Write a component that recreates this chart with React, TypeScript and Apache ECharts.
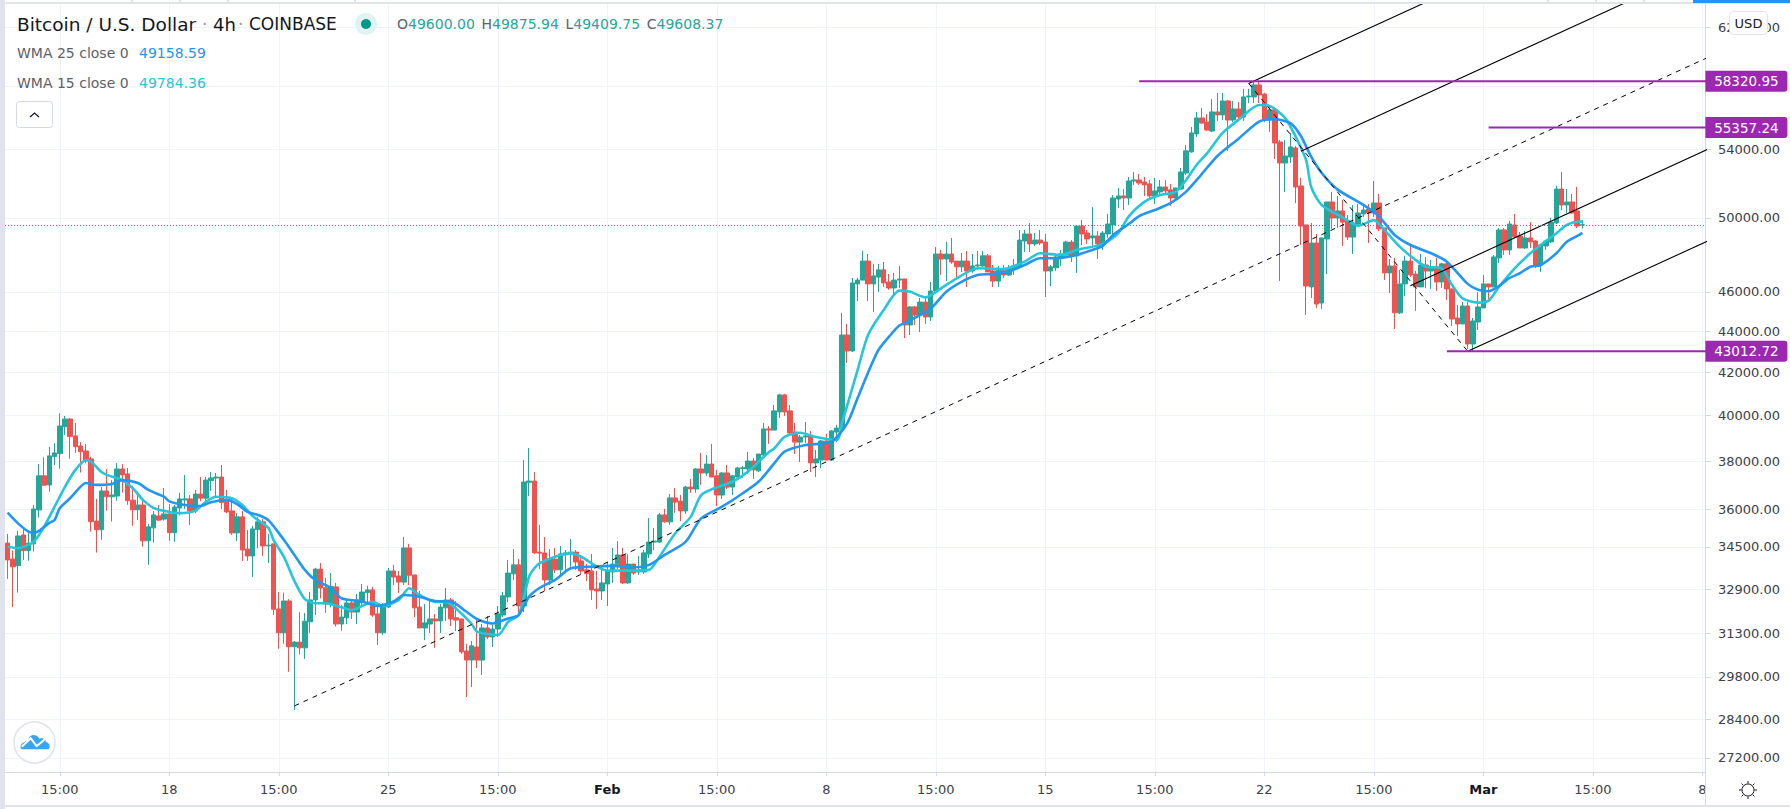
import React, { useEffect, useRef } from "react";
import * as echarts from "echarts";

// [open, close, low, high], 4h Bitcoin / U.S. Dollar candles
const ohlc = [
[34650,34000,33280,35010],[34030,33740,32240,34360],[33780,34930,32770,35130],[34970,34360,34000,35240],[34360,34650,33970,35040],
[34620,36010,34320,36170],[35970,37380,35660,37880],[37380,36990,36960,38170],[37000,38230,36720,38620],[38200,38360,37840,38780],
[38330,39540,37680,40110],[39510,39850,39140,39990],[39850,39070,38110,39900],[39100,38630,38360,39680],[38660,38410,37520,38830],
[38440,38020,37910,38750],[38100,35500,35100,38200],[35520,35180,34280,36420],[35180,36750,34780,36910],[36750,36510,35940,37670],
[36510,36580,35500,37200],[36540,37670,36350,37930],[37670,37420,36680,37880],[37460,36350,36180,37710],[36370,35980,35330,36960],
[35980,36170,35560,36710],[36170,34740,34510,36370],[34740,35290,33810,35410],[35250,35770,34670,35930],[35730,35560,35520,36170],
[35600,35810,35540,36870],[35810,35060,34740,36210],[35060,36090,34700,36170],[36050,36420,35750,36670],[36375,36420,36010,37420],
[36420,35930,35370,36580],[35930,36620,35840,36790],[36620,36450,36330,37330],[36450,37200,36240,37330],[37180,37290,36750,37540],
[37290,37330,36510,37500],[37330,36270,36010,37840],[36320,35890,35840,36790],[35930,35050,34970,36420],[35050,35690,34730,35840],
[35690,34380,33960,35930],[34420,34150,33960,35170],[34150,35210,33350,35330],[35180,35490,34450,35690],[35490,34540,34150,35600],
[34540,34570,33880,35010],[34620,32160,31950,34620],[32170,31320,30760,32790],[31320,32460,30930,32770],[32460,30830,29970,32530],
[30830,30990,28710,31030],[30990,30790,30560,32050],[30790,31730,30410,32020],[31710,32500,31320,32790],[32500,33650,31950,33700],
[33650,32940,32560,33880],[32950,32350,32030,33310],[32350,32990,32230,33500],[32980,31630,31540,33130],[31630,31880,31390,32320],
[31850,32390,31630,32520],[32390,32060,31810,32520],[32060,32500,31630,32720],[32400,32790,32240,33090],[32770,32870,32350,33020],
[32870,31950,31880,32980],[31990,31320,30890,32280],[31320,32280,31240,32390],[32240,33580,32210,33690],[33580,33350,33050,33810],
[33390,33160,32760,33580],[33160,34460,33050,34890],[34460,33420,33050,34620],[33430,32210,31880,33430],[32240,31490,31490,32830],
[31490,31670,31060,32350],[31630,31810,31310,32460],[31810,31740,30790,31990],[31740,32240,31310,32350],[32210,32500,31740,32940],
[32500,31810,31560,32570],[31850,31770,31380,32460],[31810,30650,30580,31810],[30680,30370,29130,30930],[30370,30860,29460,31030],
[30820,30370,30100,31850],[30370,31490,29860,31630],[31490,31170,31100,31920],[31170,31450,30820,31600],[31450,31990,31170,32280],
[31950,32650,31880,32790],[32610,33500,32420,34000],[33470,33810,33240,34420],[33810,32280,31950,34030],[32280,37120,32060,38050],
[37110,37160,36540,38570],[37160,34270,34230,37540],[34300,34260,33650,35370],[34270,33240,32830,34890],[33240,34030,33050,34420],
[34030,33620,33500,34460],[33620,34230,33430,34540],[34200,34270,33540,34380],[34230,34300,33740,34810],[34300,33920,33620,34380],
[33960,33580,33470,34190],[33620,33480,33200,33840],[33580,32870,32500,34230],[32900,32830,32170,33580],[32830,33130,32500,33810],
[33090,33580,32280,33920],[33540,33840,33130,34460],[33810,34190,33650,34730],[34190,33130,33090,34460],[33130,33840,33090,34230],
[33840,33500,33430,33840],[33540,33580,33430,34150],[33540,34270,33470,34380],[34230,34690,34070,35640],[34690,34730,34380,35250],
[34690,35770,34650,35850],[35770,35490,35450,36010],[35490,36460,35370,36620],[36460,36290,35850,36870],[36330,35930,35520,36580],
[35930,36910,35810,36960],[36910,36830,36670,37250],[36830,37670,36670,37710],[37670,37500,37000,38360],[37500,37880,37380,38270],
[37880,37330,37330,38750],[37380,36580,36130,37630],[36580,37500,36420,37540],[37500,36910,36830,37840],[36910,37380,36580,37420],
[37330,37710,37200,37760],[37690,37720,37290,37800],[37670,38010,37460,38400],[38010,37630,37250,38140],[37590,38310,37540,38310],
[38270,39410,38230,39680],[39410,39360,38750,39540],[39360,40220,39360,40490],[40170,40950,39900,41000],[40950,40170,39990,41000],
[40220,39230,39140,40490],[39270,38830,38310,39680],[38830,39050,37970,39140],[39050,39100,38790,39720],[39100,37930,37540,39320],
[37930,38100,37330,38490],[38050,38880,37710,38920],[38880,38050,38050,39190],[38050,39320,38010,39360],[39270,39450,38830,39590],
[39410,43810,39360,44920],[43810,43030,42450,44360],[43030,46460,42980,46720],[46410,46610,45520,46720],[46610,47620,46610,48170],
[47620,46410,45520,48000],[46410,46830,44970,47470],[46770,47150,45990,47470],[47150,46460,46250,47570],[46510,46200,46100,46930],
[46200,46610,45730,46990],[46610,46670,46200,47360],[46670,44310,43660,46670],[44310,45220,43810,45270],[45220,44810,44310,45270],
[44810,45470,43960,45680],[45470,44710,44360,45780],[44710,46040,44510,46510],[46040,48000,46040,48380],[48000,47730,46880,48220],
[47730,48000,46560,48660],[48000,47570,47470,48880],[47620,47310,46770,47620],[47310,47620,47040,48060],[47620,47090,46250,48170],
[47090,47360,46990,48000],[47360,47410,47150,48170],[47360,47900,47310,48170],[47900,47040,47040,48000],[47090,46560,46250,47410],
[46560,47150,46250,47360],[47150,46880,46720,47410],[46880,47200,46830,47410],[47200,47360,46880,47730],[47310,48760,47310,49320],
[48710,49100,48110,49320],[49100,48550,48110,49710],[48550,48760,48440,49150],[48760,48600,48490,49320],[48650,47090,45730,49100],
[47090,47310,46300,47410],[47260,47840,47090,48000],[47790,48000,47360,48220],[47950,48650,47900,48710],[48650,47900,47570,48760],
[47900,49540,46990,49540],[49540,49100,48490,49880],[49150,48820,48550,49320],[48880,48990,48440,50610],[48990,48550,47730,49260],
[48550,49150,48220,49260],[49100,49650,48880,50220],[49600,51130,49040,51300],[51070,51250,50560,51710],[51250,51130,50440,51650],
[51130,52120,50730,52360],[52120,52180,51890,52650],[52180,52000,51890,52530],[52060,51890,51250,52360],[51950,51250,51010,52180],
[51250,51540,50790,52300],[51480,51770,51250,52180],[51770,51540,51300,52180],[51600,51130,50670,51950],[51130,51710,50960,51710],
[51650,52650,51600,52890],[52590,53920,52470,54280],[53860,55020,53800,55390],[54960,55960,54770,56340],[55960,55640,55580,56590],
[55700,55200,55140,56210],[55140,56340,55080,57170],[56340,56150,55770,57560],[56150,57040,55830,57560],[57040,55830,53920,57100],
[55830,56530,55700,57040],[56530,56020,55890,56970],[56020,57300,55770,57820],[57300,57360,56910,57820],[57300,58080,56910,58320],
[58080,57430,56910,58321],[57490,55830,55700,57560],[55830,56470,55080,56660],[56470,54400,53430,56660],[54460,53190,46560,54580],
[53190,53610,51480,54580],[53550,54160,53190,55020],[54100,51770,50840,54220],[51830,49540,48490,52300],[49600,46300,44810,49600],
[46250,48600,45680,49710],[48600,45370,45170,49100],[45420,48880,45120,48880],[48820,50900,46930,50900],[50900,49990,49380,51480],
[49990,50390,49430,51250],[50390,49760,48440,51010],[49820,48930,48760,50160],[48930,49710,48000,50730],[49650,50270,49540,50790],
[50220,50440,50050,50790],[50500,50270,48600,50790],[50270,50840,50050,52120],[50840,49380,49260,51360],[49430,46990,46610,49430],
[46990,47360,45940,47730],[47360,44920,44110,47790],[44920,46410,44860,47150],[46410,47620,45780,47900],[47620,46880,46770,48440],
[46930,46250,45020,47090],[46250,47410,46250,48000],[47410,47090,46200,47840],[47090,47310,46150,47680],[47310,46510,46040,47790],
[46510,47470,46200,47520],[47470,46150,45575,47520],[46150,44610,44260,46150],[44660,44360,43760,45320],[44360,45270,44360,45470],
[45270,43370,43130,45470],[43370,44510,43012.72,44660],[44460,45220,44060,45990],[45170,46410,45170,46880],[46410,46250,45630,46410],
[46250,47840,46250,47950],[47790,49320,47520,49430],[49320,48220,47950,49430],[48220,49650,47950,49820],[49600,48930,48880,50220],
[48990,48330,48330,49210],[48330,48880,48280,49260],[48880,48660,48330,49760],[48710,47410,47250,48760],[47410,48490,47040,48550],
[48440,48710,48220,48710],[48660,49760,48600,49990],[49710,51650,49650,51830],[51650,50730,50440,52650],[50730,50900,50270,51650],
[50900,50270,50270,51360],[50390,49540,49430,51770],[49600,49608.37,49409.75,49875.94],
];

// [candle index, value] at the places where it bends
const wma25 = [[0,35860],[2,35430],[4,35100],[5,35060],[6,35130],[8,35450],[9,35560],[10,36040],[12,36450],[14,36930],[15,37080],[17,37000],[20,37040],[22,37200],[25,37080],[27,36790],[30,36510],[31,36320],[34,36170],[37,36130],[39,36280],[42,36380],[44,36210],[46,35890],[48,35770],[50,35560],[53,34770],[55,34190],[57,33620],[59,33240],[62,32940],[64,32560],[68,32440],[71,32280],[74,32440],[76,32680],[79,32620],[82,32460],[85,32440],[88,32070],[90,31810],[93,31650],[96,31830],[98,31950],[100,32620],[102,32940],[105,33240],[108,33680],[112,33740],[116,33770],[120,33720],[123,33810],[126,34190],[130,34700],[133,35630],[137,36100],[140,36510],[144,37130],[147,37910],[149,38410],[153,38700],[158,38850],[161,39660],[163,40810],[165,41990],[167,43080],[169,43720],[171,44280],[173,44530],[177,45130],[180,46000],[183,46530],[186,46880],[189,46930],[192,47060],[195,47410],[198,47770],[201,47770],[205,47950],[208,48220],[210,48440],[212,49040],[215,49650],[217,50100],[220,50440],[223,50830],[226,51500],[229,52530],[232,53610],[236,54650],[240,55730],[243,55880],[246,55630],[248,54830],[250,53550],[252,52590],[255,51630],[260,50730],[263,50070],[266,49040],[269,48490],[273,48040],[276,47590],[280,46410],[282,46100],[284,46030],[286,46300],[288,46720],[290,46970],[292,47320],[294,47410],[297,48040],[299,48670],[301,48990],[302,49158.59]];

const wma15 = [[0,34510],[2,34460],[5,34700],[7,35300],[9,36100],[11,36920],[13,37630],[15,38050],[16,37980],[18,37540],[19,37420],[21,37280],[22,37200],[24,36860],[26,36370],[28,36050],[31,35890],[33,35840],[36,35940],[38,36300],[40,36510],[43,36450],[45,36170],[47,35720],[50,35250],[51,34770],[53,34110],[55,33200],[57,32530],[59,32380],[61,32380],[64,32230],[66,32130],[70,32430],[72,32280],[75,32500],[77,32930],[79,32680],[82,32430],[84,32430],[87,32010],[89,31630],[90,31360],[94,31240],[96,31710],[98,31950],[100,33360],[101,33680],[102,33870],[105,34120],[108,34250],[110,34120],[113,33740],[115,33590],[119,33590],[123,33620],[125,34120],[128,35030],[131,35690],[133,36580],[136,36900],[139,37130],[142,37560],[146,38400],[147,38550],[149,39060],[152,39240],[155,39050],[159,38920],[160,39660],[163,42120],[165,43810],[168,45060],[171,46060],[173,46010],[176,45710],[179,46180],[182,46700],[186,47240],[191,47190],[195,47590],[198,48040],[202,47950],[205,48220],[210,48540],[213,49150],[215,50080],[218,50910],[221,51300],[224,51490],[226,52180],[228,53070],[230,53770],[233,55020],[236,55830],[240,56780],[242,56720],[245,55950],[247,54790],[249,53370],[250,51750],[252,50730],[256,50030],[259,49560],[262,49870],[264,49320],[267,48390],[270,47680],[272,47320],[275,47230],[277,46350],[279,45660],[282,45440],[284,45540],[286,46260],[289,47230],[292,48040],[294,48490],[297,49140],[299,49600],[301,49780],[302,49784.36]];

const yGridTicks = [62000, 58000, 54000, 50000, 46000, 44000, 42000, 40000, 38000, 36000, 34500, 32900, 31300, 29800, 28400, 27200];
// 58000 sits behind the purple 58320.95 label in the reference, so only its gridline shows
const yLabelTicks = [62000, 54000, 50000, 46000, 44000, 42000, 40000, 38000, 36000, 34500, 32900, 31300, 29800, 28400, 27200];
const xTickIndex = [10, 31, 52, 73, 94, 115, 136, 157, 178, 199, 220, 241, 262, 283, 304, 325];
const xTickLabels = ["15:00", "18", "15:00", "25", "15:00", "Feb", "15:00", "8", "15:00", "15", "15:00", "22", "15:00", "Mar", "15:00", "8"];
const boldLabels = ["Feb", "Mar"];
const categoryCount = 326;

const lastClose = 49608.37;

// horizontal levels: [value, first candle index]
const levels: [number, number][] = [[58320.95, 217], [55357.24, 284], [43012.72, 276]];

// pitchfork, as [candle index, price] end points
const forkMedian = [[55, 28840], [335, 61374]];
const forkHandle = [[238, 58181], [280, 43012.72]];
const forkUpper = [[238, 58181], [335, 75553]];
const forkInnerUpper = [[248, 53889], [335, 68120]];
const forkInnerLower = [[269, 46312], [335, 55339]];
const forkLower = [[280, 43012.72], [335, 49910]];

const FONT = "DejaVu Sans";
const TEXT = "#131722";
const UP = "#26a69a";
const DOWN = "#ef5350";
const BLUE = "#2196f3";
const CYAN = "#26c6da";
const PURPLE = "#9c27b0";
const GRID = "#f0f3fa";
const AXIS = "#d6d8e0";
const PANEL = "#e0e3eb";

const categories = Array.from({ length: categoryCount }, (_, i) => {
  const k = xTickIndex.indexOf(i);
  return k >= 0 ? xTickLabels[k] + "#" + i : "#" + i;
});
const isTick = (index: number) => xTickIndex.indexOf(index) >= 0;

const trend = (data: number[][], dashed: boolean) => ({
  type: "line",
  data,
  symbol: "none",
  silent: true,
  clip: true,
  z: 4,
  lineStyle: { color: "#000000", width: dashed ? 1 : 1.1, type: dashed ? [5, 5] : "solid" },
});

const text = (x: number, y: number, t: string, size: number, fill: string) => ({
  type: "text",
  x,
  y,
  z: 30,
  style: { text: t, fill, font: `${size}px "${FONT}"`, verticalAlign: "middle" },
});

export default function App() {
  const ref = useRef<HTMLDivElement>(null);
  useEffect(() => {
    document.body.style.margin = "0";
    document.body.style.background = "#fff";
    echarts.graphic.registerShape(
      "tvcloud",
      echarts.graphic.extendPath(
        "M1 15 L26 15 C28 15 28.5 9 24 8 C24 5 20 4 18 5 C16 1 10 0 8 4 C7 7 5 7 4 8 C0 9 -1 13 1 15 Z",
        {}
      )
    );
    const chart = echarts.init(ref.current!, undefined, { renderer: "svg" });
    const sunRays = [0, 45, 90, 135, 180, 225, 270, 315].map((deg) => {
      const a = (deg * Math.PI) / 180;
      return {
        type: "line",
        z: 30,
        shape: {
          x1: 1748 + Math.cos(a) * 6.5,
          y1: 790 + Math.sin(a) * 6.5,
          x2: 1748 + Math.cos(a) * 9,
          y2: 790 + Math.sin(a) * 9,
        },
        style: { stroke: TEXT, lineWidth: 1 },
      };
    });
    const topSeparators = [131, 179, 227, 354, 1547, 1595, 1643].map((x) => ({
      type: "rect",
      z: 30,
      shape: { x, y: 0, width: 2, height: 3 },
      style: { fill: PANEL },
    }));
    const option: any = {
      animation: false,
      backgroundColor: "#ffffff",
      grid: { left: 5, top: 4, width: 1700, height: 768, containLabel: false },
      xAxis: {
        type: "category",
        data: categories,
        boundaryGap: true,
        axisLine: { lineStyle: { color: AXIS, width: 1 } },
        axisTick: { show: true, length: 4, alignWithLabel: true, interval: isTick, lineStyle: { color: AXIS } },
        splitLine: { show: true, alignWithLabel: true, interval: isTick, lineStyle: { color: GRID, width: 1 } },
        axisLabel: {
          show: true,
          interval: isTick,
          margin: 11,
          color: "#3c4049",
          fontFamily: FONT,
          fontSize: 13,
          formatter: (v: string) => {
            const name = v.split("#")[0];
            return boldLabels.indexOf(name) >= 0 ? `{b|${name}}` : name;
          },
          rich: { b: { fontWeight: "bold", color: TEXT, fontFamily: FONT, fontSize: 13 } },
        },
      },
      yAxis: {
        type: "log",
        logBase: 10,
        position: "right",
        min: 26769,
        max: 63629,
        axisLine: { show: true, lineStyle: { color: AXIS, width: 1 } },
        axisTick: { show: true, length: 6, customValues: yGridTicks, lineStyle: { color: AXIS } },
        minorTick: { show: false },
        minorSplitLine: { show: false },
        splitLine: { show: true, lineStyle: { color: GRID, width: 1 } },
        axisLabel: {
          show: true,
          margin: 13,
          customValues: yLabelTicks,
          color: "#3c4049",
          fontFamily: FONT,
          fontSize: 13,
          padding: [2, 0, 0, 0],
          formatter: (v: number) => Number(v).toFixed(2),
        },
      },
      series: [
        {
          type: "candlestick",
          data: ohlc,
          barWidth: 5,
          silent: true,
          z: 2,
          itemStyle: { color: UP, color0: DOWN, borderColor: UP, borderColor0: DOWN, borderWidth: 1 },
          markLine: {
            silent: true,
            symbol: "none",
            animation: false,
            label: { show: false },
            lineStyle: { color: UP, width: 1, type: [1, 2] },
            data: [{ yAxis: lastClose }],
          },
        },
        { type: "line", data: wma15, symbol: "none", smooth: 0.25, silent: true, z: 3, lineStyle: { color: CYAN, width: 2.6 } },
        { type: "line", data: wma25, symbol: "none", smooth: 0.25, silent: true, z: 3, lineStyle: { color: BLUE, width: 2.6 } },
        trend(forkMedian, true),
        trend(forkHandle, true),
        trend(forkUpper, false),
        trend(forkInnerUpper, false),
        trend(forkInnerLower, false),
        trend(forkLower, false),
        ...levels.map(([value, from]) => ({
          type: "line",
          data: [[from, value], [335, value]],
          symbol: "none",
          silent: true,
          clip: true,
          z: 5,
          lineStyle: { color: PURPLE, width: 2 },
          markPoint: {
            silent: true,
            symbol: "circle",
            symbolSize: 1,
            itemStyle: { color: "rgba(0,0,0,0)" },
            data: [{ coord: [325, value], value }],
            label: {
              show: true,
              position: "inside",
              offset: [44, 0],
              width: 82,
              height: 21,
              lineHeight: 21,
              align: "center",
              verticalAlign: "middle",
              backgroundColor: PURPLE,
              borderRadius: [0, 3, 3, 0],
              color: "#ffffff",
              fontFamily: FONT,
              fontSize: 13.5,
              formatter: () => value.toFixed(2),
            },
          },
        })),
      ],
      graphic: [
        { type: "rect", z: 30, shape: { x: 0, y: 0, width: 5, height: 809 }, style: { fill: PANEL } },
        { type: "rect", z: 30, shape: { x: 5, y: 2, width: 1785, height: 2 }, style: { fill: PANEL } },
        ...topSeparators,
        { type: "rect", z: 31, shape: { x: 1693, y: 0, width: 97, height: 3 }, style: { fill: BLUE } },
        { type: "rect", z: 30, shape: { x: 5, y: 805, width: 1785, height: 2 }, style: { fill: PANEL } },
        { type: "line", z: 30, shape: { x1: 1705.5, y1: 772, x2: 1705.5, y2: 805 }, style: { stroke: AXIS, lineWidth: 1 } },
        text(17, 24, "Bitcoin / U.S. Dollar", 18.5, TEXT),
        text(202, 24, "·", 17, "#9598a1"),
        text(213, 24, "4h", 18, TEXT),
        text(238, 24, "·", 17, "#9598a1"),
        text(249, 24, "COINBASE", 17, TEXT),
        { type: "circle", z: 30, shape: { cx: 366, cy: 24, r: 11 }, style: { fill: "#e0f2f1" } },
        { type: "circle", z: 31, shape: { cx: 366, cy: 24, r: 5 }, style: { fill: "#009688" } },
        {
          type: "text",
          x: 397,
          y: 24,
          z: 30,
          style: {
            text: "{l|O}{v|49600.00}  {l|H}{v|49875.94}  {l|L}{v|49409.75}  {l|C}{v|49608.37}",
            verticalAlign: "middle",
            rich: {
              l: { fill: "#5d606b", font: `14px "${FONT}"` },
              v: { fill: UP, font: `14px "${FONT}"` },
            },
          },
        },
        text(17, 53, "WMA 25 close 0", 14, "#5d606b"),
        text(139, 53, "49158.59", 14, BLUE),
        text(17, 83, "WMA 15 close 0", 14, "#5d606b"),
        text(139, 83, "49784.36", 14, CYAN),
        {
          type: "rect",
          z: 30,
          shape: { x: 16.5, y: 101.5, width: 36, height: 26, r: 3 },
          style: { fill: "#fff", stroke: AXIS, lineWidth: 1 },
        },
        {
          type: "polyline",
          z: 31,
          shape: { points: [[30, 117], [34.5, 113], [39, 117]] },
          style: { stroke: TEXT, lineWidth: 1.3, fill: "none" },
        },
        {
          type: "rect",
          z: 30,
          shape: { x: 1729.5, y: 11.5, width: 38, height: 23, r: 4 },
          style: { fill: "#fff", stroke: PANEL, lineWidth: 1 },
        },
        { type: "text", z: 31, x: 1748.5, y: 23.5, style: { text: "USD", fill: TEXT, font: `13px "${FONT}"`, align: "center", verticalAlign: "middle" } },
        { type: "circle", z: 30, shape: { cx: 34.5, cy: 742.5, r: 20.5 }, style: { fill: "#fff", stroke: PANEL, lineWidth: 1.5 } },
        { type: "tvcloud", z: 31, x: 20.5, y: 733.5, scaleX: 1.06, scaleY: 1.05, style: { fill: "#37a6ef" } },
        {
          type: "polyline",
          z: 32,
          shape: { points: [[21.7, 746.7], [30.7, 738.3], [36.7, 746], [45, 739.3]] },
          style: { stroke: "#fff", lineWidth: 2, fill: "none" },
        },
        { type: "circle", z: 30, shape: { cx: 1748, cy: 790, r: 6 }, style: { fill: "none", stroke: TEXT, lineWidth: 1 } },
        ...sunRays,
      ],
    };
    chart.setOption(option);
    return () => chart.dispose();
  }, []);
  return <div ref={ref} style={{ position: "absolute", left: 0, top: 0, width: 1790, height: 809 }} />;
}
